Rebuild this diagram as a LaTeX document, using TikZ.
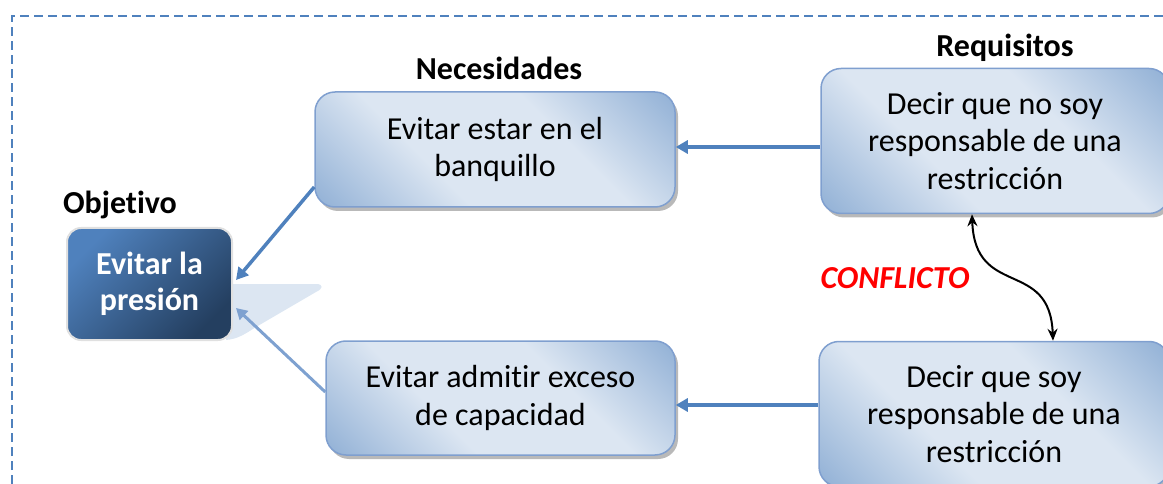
\documentclass[tikz,border=0pt]{standalone}
\usepackage{fontspec}
\setmainfont{Carlito}[Ligatures={NoCommon,NoContextual,NoRare}]
\usetikzlibrary{arrows.meta,shadows}
\definecolor{dashblue}{HTML}{4F81BD}
\definecolor{arrowblue}{HTML}{4F81BD}
\definecolor{lightarrow}{HTML}{7EA1D0}
\definecolor{boxlight}{HTML}{DCE6F2}
\definecolor{boxdark}{HTML}{95B3D7}
\definecolor{boxedge}{HTML}{7F9FCF}
\definecolor{objtop}{HTML}{4F81BD}
\definecolor{objbot}{HTML}{243F60}
\definecolor{wedgeblue}{HTML}{DCE6F2}
\pgfdeclareverticalshading{boxshade}{100bp}{color(0bp)=(boxdark); color(16bp)=(boxdark); color(38bp)=(boxlight); color(62bp)=(boxlight); color(84bp)=(boxdark); color(100bp)=(boxdark)}
\newcommand{\diagbody}{\fontsize{32}{37.5}\selectfont}
\newcommand{\diaghead}{\bfseries\fontsize{32}{36}\selectfont}
\begin{document}
\begin{tikzpicture}[x=1pt,y=-1pt,
  lightbox/.style={draw=boxedge, line width=1.5pt, rounded corners=20pt,
    shading=boxshade, shading angle=-45,
    drop shadow={shadow xshift=3pt, shadow yshift=-4pt, opacity=0.55, fill=black!50},
    align=center, font=\diagbody, inner sep=0pt},
  objbox/.style={draw=white!88!black, line width=2pt, rounded corners=14pt,
    top color=objtop, bottom color=objbot, shading angle=45,
    align=center, font=\diaghead, text=white, inner sep=0pt},
  heading/.style={font=\diaghead, inner sep=0pt},
  bluearrow/.style={draw=arrowblue, line width=3.5pt, -{Triangle[length=12pt,width=13pt]}},
  bluearrowlight/.style={draw=lightarrow, line width=3pt, -{Triangle[length=11pt,width=12pt]}},
  conflictarrow/.style={draw=black, line width=2pt, {Stealth[length=12pt,width=10pt]}-{Stealth[length=12pt,width=10pt]}}
]
\useasboundingbox (0,0) rectangle (1163,484);
% frame
\draw[dashblue, line width=2pt, dash pattern=on 9pt off 5pt] (12,484) -- (12,16) -- (1163,16);
% reflection wedge
\fill[wedgeblue] (230,284) -- (316,284) .. controls (324,284) and (323,289) .. (316,292)
  -- (256,327) .. controls (245,334) and (238,339) .. (226,340) -- cycle;
% boxes
\node[objbox, minimum width=165pt, minimum height=112pt] (obj) at (149.5,284) {Evitar la\\presión};
\node[lightbox, minimum width=360pt, minimum height=115pt] (need1) at (495,149.5) {Evitar estar en el\\banquillo};
\node[lightbox, minimum width=349pt, minimum height=114pt] (need2) at (500.5,398) {Evitar admitir exceso\\de capacidad};
\node[lightbox, minimum width=348pt, minimum height=145pt] (req1) at (995,141) {Decir que no soy\\responsable de una\\restricción};
\node[lightbox, minimum width=350pt, minimum height=145pt] (req2) at (994,414) {Decir que soy\\responsable de una\\restricción};
% headings
\node[heading] (hobj) at (120,205) {Objetivo};
\node[heading] (hneed) at (499,68) {Necesidades};
\node[heading] (hreq) at (1005,48) {Requisitos};
\node[heading, font=\diaghead\itshape, text=red] (conf) at (895,278) {CONFLICTO};
% connectors
\draw[bluearrow] (req1.west |- 0,147) -- (need1.east |- 0,147);
\draw[bluearrow] (req2.west |- 0,405) -- (need2.east |- 0,405);
\draw[bluearrow] ([yshift=-37.5pt]need1.west) -- ([xshift=3pt,yshift=4pt]obj.east);
\draw[bluearrowlight] ([yshift=6pt]need2.west) -- ([xshift=3pt,yshift=-24pt]obj.east);
\draw[conflictarrow] ([xshift=-23pt]req1.south) .. controls +(3,85) and +(-3,-83) .. ([xshift=59pt]req2.north);
\end{tikzpicture}
\end{document}
